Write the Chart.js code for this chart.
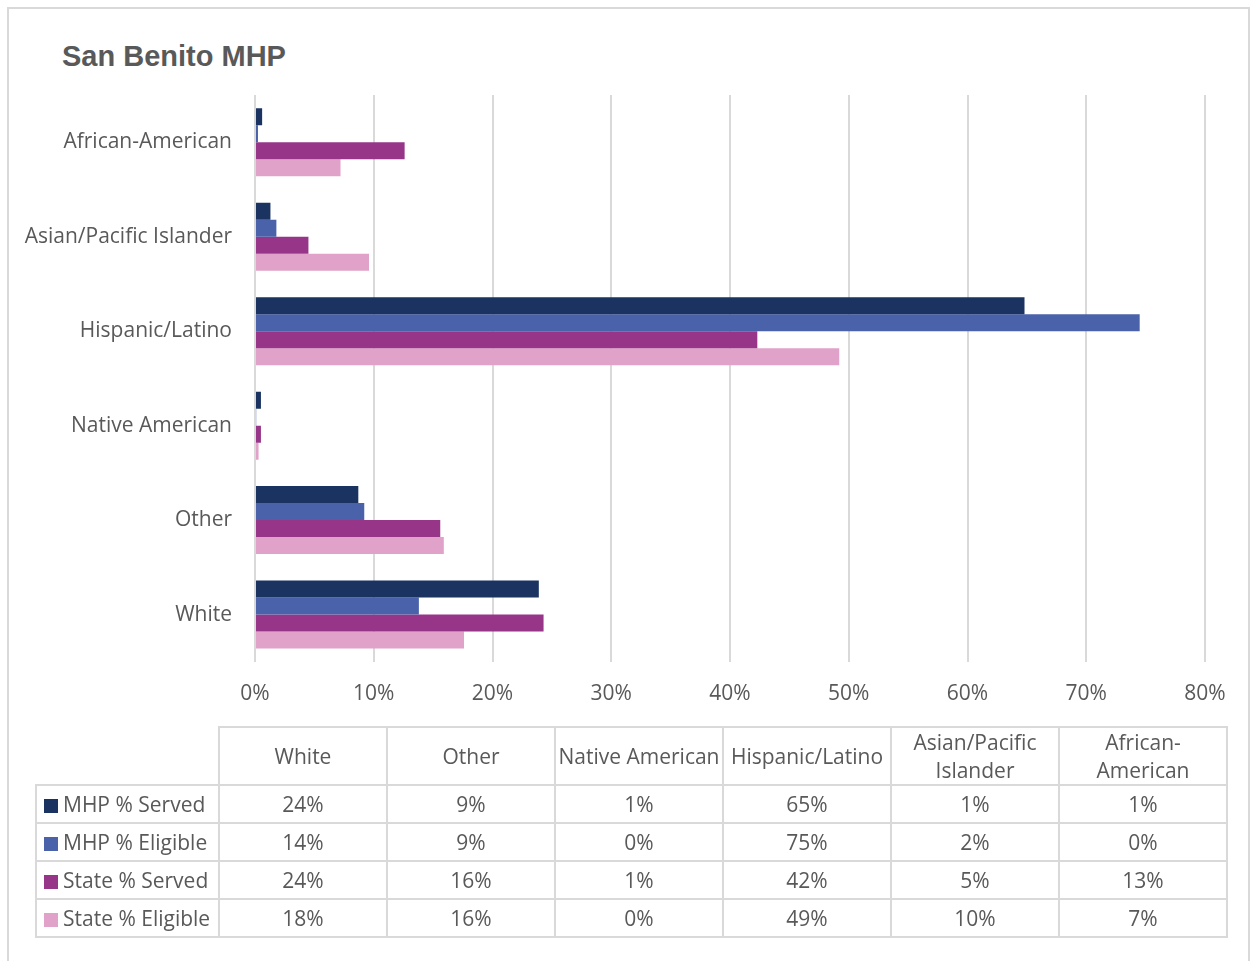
<!DOCTYPE html>
<html>
<head>
<meta charset="utf-8">
<script src="https://cdn.jsdelivr.net/npm/chart.js@4"></script>
<style>
  body { margin: 0; background: #fff; font-family: "Open Sans", sans-serif; color: #595959; }
  #frame { position: absolute; left: 7px; top: 7px; width: 1239px; height: 970px; border: 2px solid #d9d9d9; }
  #title { position: absolute; left: 62px; top: 40px; font: bold 29px "Liberation Sans", Arial, sans-serif; color: #595959; }
  #wrap { position: absolute; left: 0; top: 0; width: 1250px; height: 741px; }
  #tbl { position: absolute; left: 35px; top: 726px; border-collapse: collapse; table-layout: fixed; font-size: 21px; color: #595959; }
  #tbl td { border: 2px solid #d9d9d9; text-align: center; padding: 0; height: 36px; line-height: 24px; }
  #tbl tr.head td { height: 56px; line-height: 28px; }
  #tbl td.blank { border: none; border-bottom: 2px solid #d9d9d9; border-right: 2px solid #d9d9d9; }
  #tbl td.leg { text-align: left; padding-left: 7px; white-space: nowrap; }
  .sw { display: inline-block; width: 14px; height: 14px; margin-right: 5px; vertical-align: -1px; }
</style>
</head>
<body>
<div id="frame"></div>
<div id="title">San Benito MHP</div>
<div id="wrap"><canvas id="chart"></canvas></div>
<table id="tbl"></table>
<script>
const categories = ['White', 'Other', 'Native American', 'Hispanic/Latino', 'Asian/Pacific Islander', 'African-American'];
const headLabels = ['White', 'Other', 'Native American', 'Hispanic/Latino', 'Asian/Pacific<br>Islander', 'African-<br>American'];
const seriesNames = ['MHP % Served', 'MHP % Eligible', 'State % Served', 'State % Eligible'];
const seriesColors = ['#1a3360', '#4a62aa', '#973688', '#e0a2c8'];
const mhpServed = [23.9, 8.7, 0.5, 64.8, 1.3, 0.6];
const mhpEligible = [13.8, 9.2, 0.1, 74.5, 1.8, 0.25];
const stateServed = [24.3, 15.6, 0.5, 42.3, 4.5, 12.6];
const stateEligible = [17.6, 15.9, 0.3, 49.2, 9.6, 7.2];
const xTicks = [0, 10, 20, 30, 40, 50, 60, 70, 80];

const allSeries = [mhpServed, mhpEligible, stateServed, stateEligible];

let ctx = document.getElementById('chart').getContext('2d');
let chart = new Chart(ctx, {
    type: 'bar',
    data: {
        labels: categories,
        datasets: allSeries.map((vals, i) => ({
            label: seriesNames[i],
            data: vals,
            backgroundColor: seriesColors[i],
            borderWidth: 0,
            barPercentage: 1,
            categoryPercentage: 0.72
        }))
    },
    options: {
        indexAxis: 'y',
        responsive: true,
        maintainAspectRatio: false,
        animation: false,
        layout: { padding: { top: 95, right: 45, bottom: 14, left: 0 } },
        plugins: { legend: { display: false }, tooltip: { enabled: false } },
        scales: {
            x: {
                min: 0, max: 80,
                afterBuildTicks: axis => { axis.ticks = xTicks.map(v => ({ value: v })); },
                ticks: { callback: v => v + '%', color: '#595959', font: { family: 'Open Sans', size: 21 }, padding: 20 },
                grid: { color: '#d9d9d9', lineWidth: 2, drawTicks: false },
                border: { display: false }
            },
            y: {
                reverse: true,
                afterFit: axis => { axis.width = 255; },
                ticks: { color: '#595959', font: { family: 'Open Sans', size: 21 }, padding: 23 },
                grid: { display: false, drawTicks: false },
                border: { display: false }
            }
        }
    }
});

// data table under the chart
let tbl = document.getElementById('tbl');
let html = '<colgroup><col style="width:183px">' + categories.map(() => '<col style="width:168px">').join('') + '</colgroup>';
html += '<tr class="head"><td class="blank"></td>' + headLabels.map(h => '<td>' + h + '</td>').join('') + '</tr>';
allSeries.forEach((vals, i) => {
    html += '<tr><td class="leg"><span class="sw" style="background:' + seriesColors[i] + '"></span>' + seriesNames[i] + '</td>';
    html += vals.map(v => '<td>' + Math.round(v) + '%</td>').join('') + '</tr>';
});
tbl.innerHTML = html;
</script>
</body>
</html>
